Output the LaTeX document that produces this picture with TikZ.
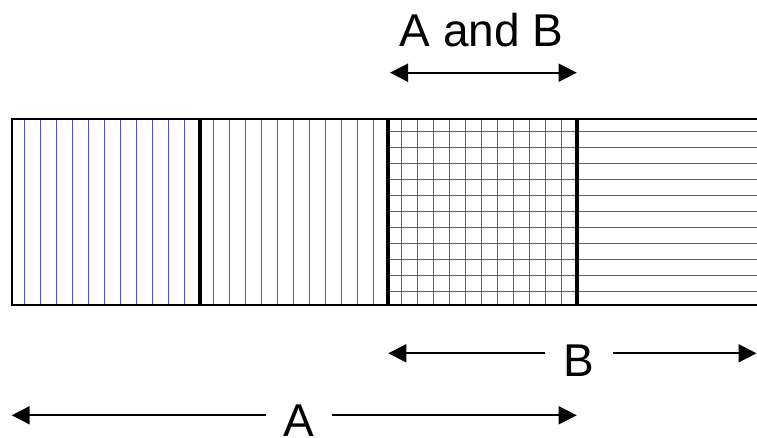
\documentclass[tikz,border=0pt]{standalone}
\usepackage{fontspec}
\setmainfont{Liberation Sans}
\usetikzlibrary{arrows.meta}
\definecolor{gridblue}{RGB}{80,80,210}
\tikzset{
  gridfill/.style={fill=gridblue,draw=none},
  outline/.style={draw=black,line width=1.8pt},
  divider/.style={draw=black,line width=3.6pt},
  dimline/.style={draw=black,line width=1.7pt,-{Triangle[length=18pt,width=18pt]}},
  dimboth/.style={draw=black,line width=1.7pt,{Triangle[length=18pt,width=18pt]}-{Triangle[length=18pt,width=18pt]}},
  dimlabel/.style={font=\fontsize{46}{50}\selectfont,anchor=base,inner ysep=0pt}
}
\begin{document}
\begin{tikzpicture}[x=1pt,y=-1pt]
\useasboundingbox (0,0) rectangle (757,438);
\fill[white] (0,0) rectangle (757,438);
% hatching as thin filled strips: verticals in cells 1-3, horizontals in cells 3-4
\foreach \x in {24.3,213.3,401.7} {
  \foreach \k in {0,...,10} {
    \path[gridfill] ({\x+16*\k-0.75},119) rectangle ({\x+16*\k+0.75},305);
  }
}
\foreach \k in {0,...,10} {
  \path[gridfill] (388,{131.3+16*\k-0.75}) rectangle (757,{131.3+16*\k+0.75});
}
% outline and dividers
\draw[outline] (766,119) -- (12,119) -- (12,305) -- (766,305);
\draw[divider] (200,119) -- (200,305);
\draw[divider] (388,119) -- (388,305);
\draw[divider] (577,119) -- (577,305);
% A and B
\node[dimlabel] (AB) at (481.7,46.7) {A and B};
\coordinate (abL) at (390,72.7);
\coordinate (abR) at (576.7,72.7);
\draw[dimboth] (abL) -- (abR);
% B
\node[dimlabel,inner xsep=18pt] (B) at (579,376.7) {B};
\coordinate (bL) at (388.3,353.3);
\coordinate (bR) at (756.5,353.3);
\draw[dimline] (B.west |- bL) -- (bL);
\draw[dimline] (B.east |- bR) -- (bR);
% A
\node[dimlabel,inner xsep=17pt] (A) at (299,436.5) {A};
\coordinate (aL) at (11.7,415.3);
\coordinate (aR) at (576.7,415.3);
\draw[dimline] (A.west |- aL) -- (aL);
\draw[dimline] (A.east |- aR) -- (aR);
\end{tikzpicture}
\end{document}
